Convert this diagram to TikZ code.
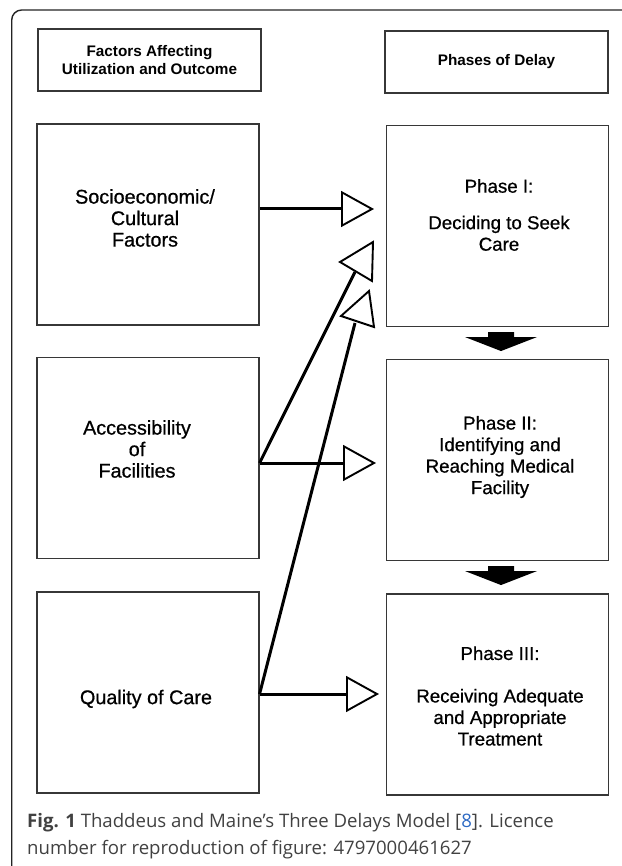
\documentclass[tikz,border=0pt]{standalone}
\usepackage{fontspec}
\setmainfont{Liberation Sans}
\newfontfamily\scanfont[FakeBold=0.7]{Liberation Sans}
\newfontfamily\capfont{Open Sans}
\usepackage{tikz}
\usetikzlibrary{arrows.meta, positioning}
\definecolor{lineGray}{RGB}{55, 55, 55}
\definecolor{frameColor}{RGB}{35, 35, 35}
\definecolor{capText}{RGB}{65, 65, 65}
\definecolor{refBlue}{RGB}{45, 105, 195}

\begin{document}
\begin{tikzpicture}[x=1pt, y=-1pt,
    box/.style={draw=lineGray, line width=1.1pt, minimum width=222pt, minimum height=201pt, inner sep=0pt},
    hdr/.style={draw=lineGray, line width=1.1pt, minimum width=223pt, minimum height=62pt, inner sep=0pt, align=center, font=\fontsize{15.3}{18}\selectfont\bfseries},
    txt/.style={align=center, inner sep=0pt, font=\scanfont\fontsize{19.8}{21.5}\selectfont},
    link/.style={line width=3pt},
    opentip/.style={-{Triangle[open, length=33pt, width=36pt, line width=1.9pt]}},
    openhead/.style={draw, fill=white, line width=1.9pt, line join=miter},
    frame/.style={draw=frameColor, line width=1.4pt, rounded corners=10pt}]
    \useasboundingbox (0,0) rectangle (621,866);
    \path[frame] (640,10) -- (11.7,10) -- (11.7,880);

    \node[hdr] (hdrF) at (149.5,60) {Factors Affecting\\Utilization and Outcome};
    \node[hdr] (hdrP) at (496.5,62) {Phases of Delay};

    \node[box] (socio) at (148,224.5) {};
    \node[box] (access) at (148,458) {};
    \node[box] (quality) at (148,692.5) {};
    \node[box] (ph1) at (497.5,226) {};
    \node[box] (ph2) at (497.5,460) {};
    \node[box] (ph3) at (497.5,694.5) {};

    \node[txt] (socioTxt) at (145,218) {Socioeconomic/\\Cultural\\Factors};
    \node[txt] (accessTxt) at (137,449) {Accessibility\\of\\Facilities};
    \node[txt] (qualityTxt) at (146,699) {Quality of Care};
    \node[txt, font=\scanfont\fontsize{18.7}{21.5}\selectfont] (ph1Txt) at (499,215) {Phase I:\\[15pt]Deciding to Seek\\Care};
    \node[txt, font=\scanfont\fontsize{18.7}{21.5}\selectfont] (ph2Txt) at (500,457) {Phase II:\\Identifying and\\Reaching Medical\\Facility};
    \node[txt, font=\scanfont\fontsize{18.7}{21.5}\selectfont] (ph3Txt) at (500,696) {Phase III:\\[21pt]Receiving Adequate\\and Appropriate\\Treatment};

    % where the open arrows end
    \coordinate (in1) at (374,209);
    \coordinate (in2) at (376,463);
    \coordinate (in3) at (379,694);
    \coordinate (tipA) at (355,272);
    \coordinate (tipB) at (355,323);

    \draw[link, opentip] (in1 -| socio.east) -- (in1);
    \draw[link, opentip] (in2 -| access.east) -- (in2);
    \draw[link, opentip] (in3 -| quality.east) -- (in3);
    \draw[link] (in2 -| access.east) -- (tipA);
    \draw[link] (in3 -| quality.east) -- (tipB);
    \draw[openhead] (tipA) ++(-15,-10) -- ++(33,-20) -- ++(-1,39) -- cycle;
    \draw[openhead] (tipB) ++(-14,-7) -- ++(28,-25) -- ++(5,36) -- cycle;

    \foreach \p in {ph1, ph2}
        \fill (\p.south) ++(-9.5,5) -- ++(26,0) -- ++(0,5) -- ++(23,0) -- ++(-36,14) -- ++(-36,-14) -- ++(23,0) -- cycle;

    \node[anchor=north west, inner sep=0pt, align=left, text=capText, font=\capfont\fontsize{18.6}{27}\selectfont] (cap) at (27,813)
        {{\bfseries Fig. 1} Thaddeus and Maine’s Three Delays Model [{\color{refBlue}8}]. Licence\\number for reproduction of figure: 4797000461627};
\end{tikzpicture}
\end{document}
